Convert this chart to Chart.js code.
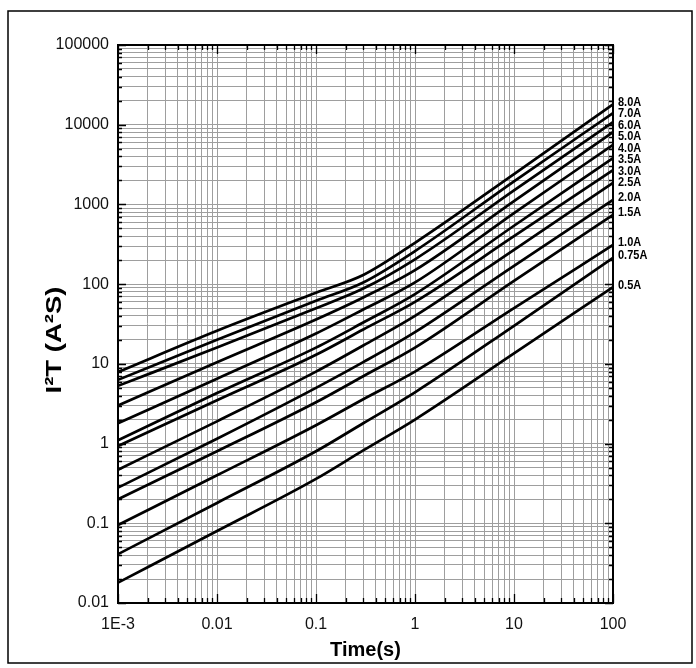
<!DOCTYPE html>
<html>
<head>
<meta charset="utf-8">
<script src="https://cdn.jsdelivr.net/npm/chart.js@4.4.1/dist/chart.umd.min.js"></script>
<style>
  html, body { margin: 0; padding: 0; background: #fff; }
  #wrap { width: 696px; height: 668px; position: relative; }
</style>
</head>
<body>
<div id="wrap"><canvas id="c" width="696" height="668"></canvas></div>
<script>
// ---- data ----
const times = [0.001, 0.01, 0.1, 0.3, 1, 10, 100];
const seriesNames = ['8.0A','7.0A','6.0A','5.0A','4.0A','3.5A','3.0A','2.5A','2.0A','1.5A','1.0A','0.75A','0.5A'];
const s8_0  = [7.9, 26, 78, 130, 330, 2400, 18000];
const s7_0  = [6.3, 20, 62, 105, 260, 1950, 14000];
const s6_0  = [5.3, 16, 50, 88, 205, 1500, 10800];
const s5_0  = [3.0, 10.5, 36, 68, 150, 1100, 8100];
const s4_0  = [1.8, 6.5, 24, 48, 105, 780, 5600];
const s3_5  = [1.1, 4.3, 16, 33, 75, 540, 3800];
const s3_0  = [0.93, 3.5, 13, 27, 60, 400, 2700];
const s2_5  = [0.47, 1.9, 8, 17, 40, 270, 1860];
const s2_0  = [0.28, 1.15, 5, 10.5, 25, 170, 1140];
const s1_5  = [0.2, 0.8, 3.3, 7.0, 16, 110, 740];
const s1_0  = [0.095, 0.4, 1.7, 3.6, 8, 50, 310];
const s0_75 = [0.041, 0.18, 0.8, 1.8, 4.4, 30, 213];
const s0_5  = [0.018, 0.08, 0.36, 0.82, 2.0, 13.5, 92];
const seriesValues = [s8_0, s7_0, s6_0, s5_0, s4_0, s3_5, s3_0, s2_5, s2_0, s1_5, s1_0, s0_75, s0_5];
const xTickLabels = ['1E-3', '0.01', '0.1', '1', '10', '100'];
const yTickLabels = ['0.01', '0.1', '1', '10', '100', '1000', '10000', '100000'];
const xTitle = 'Time(s)';
const yTitle = 'I\u00B2T (A\u00B2S)';

// ---- helpers ----
const FONT = "'Liberation Sans', Arial, Helvetica, sans-serif";
function logGridTicks(min, max) {
  const out = [];
  const e0 = Math.round(Math.log10(min)), e1 = Math.round(Math.log10(max));
  for (let e = e0; e <= e1; e++) {
    for (let m = 1; m <= 9; m++) {
      const v = parseFloat((m * Math.pow(10, e)).toPrecision(6));
      if (v >= min * 0.9999 && v <= max * 1.0001) out.push({ value: v, major: m === 1 });
    }
  }
  return out;
}
function labelFor(labels) {
  return function (value) {
    for (const l of labels) {
      if (Math.abs(Math.log10(value) - Math.log10(Number(l))) < 1e-6) return l;
    }
    return '';
  };
}
const xMin = Number(xTickLabels[0]), xMax = Number(xTickLabels[xTickLabels.length - 1]);
const yMin = Number(yTickLabels[0]), yMax = Number(yTickLabels[yTickLabels.length - 1]);

const datasets = seriesNames.map((name, i) => ({
  label: name,
  data: times.map((t, j) => ({ x: t, y: seriesValues[i][j] })),
  borderColor: '#000',
  borderWidth: 2.7,
  pointRadius: 0,
  fill: false,
  cubicInterpolationMode: 'monotone'
}));

const decor = {
  id: 'decor',
  afterDatasetsDraw(chart) {
    const { ctx, chartArea: a, scales: { x, y } } = chart;
    ctx.save();
    // curve end labels, placed at each curve's end, nudged apart so they do not overlap
    ctx.fillStyle = '#000';
    ctx.textAlign = 'left';
    ctx.textBaseline = 'middle';
    const pos = chart.data.datasets.map((ds, i) => {
      const meta = chart.getDatasetMeta(i);
      return meta.data[meta.data.length - 1].y - 2;
    });
    for (let i = 1; i < pos.length; i++) pos[i] = Math.max(pos[i], pos[i - 1] + 11.5);
    chart.data.datasets.forEach((ds, i) => {
      ctx.save();
      ctx.translate(a.right + 5, pos[i]);
      ctx.scale(1, 1.15);
      ctx.font = 'bold 11px ' + FONT;
      ctx.fillText(ds.label, 0, 0);
      ctx.restore();
    });
    // inward tick marks
    ctx.strokeStyle = '#000';
    ctx.lineWidth = 1.3;
    ctx.beginPath();
    x.ticks.forEach(t => {
      const px = Math.round(x.getPixelForValue(t.value)) + 0.5;
      const L = t.major ? 9 : 5;
      ctx.moveTo(px, a.bottom); ctx.lineTo(px, a.bottom - L);
      ctx.moveTo(px, a.top); ctx.lineTo(px, a.top + L);
    });
    y.ticks.forEach(t => {
      const py = Math.round(y.getPixelForValue(t.value)) + 0.5;
      const L = t.major ? 8 : 4;
      ctx.moveTo(a.left, py); ctx.lineTo(a.left + L, py);
      ctx.moveTo(a.right, py); ctx.lineTo(a.right - L, py);
    });
    ctx.stroke();
    // plot frame
    ctx.lineWidth = 2;
    ctx.strokeRect(a.left, a.top, a.right - a.left, a.bottom - a.top);
    // y axis title (rotated; glyphs drawn slightly elongated like the reference)
    ctx.save();
    ctx.translate(55, (a.top + a.bottom) / 2 + 16);
    ctx.rotate(-Math.PI / 2);
    ctx.scale(1.25, 1);
    ctx.font = 'bold 22px ' + FONT;
    ctx.textAlign = 'center';
    ctx.textBaseline = 'middle';
    ctx.fillText(yTitle, 0, 0);
    ctx.restore();
    // outer figure frame
    ctx.lineWidth = 1.5;
    ctx.strokeRect(8, 11, 684, 652);
    ctx.restore();
  }
};

new Chart(document.getElementById('c'), {
  type: 'line',
  data: { datasets },
  plugins: [decor],
  options: {
    responsive: false,
    animation: false,
    events: [],
    layout: { padding: { left: 0, right: 83, top: 45, bottom: 5 } },
    plugins: { legend: { display: false }, tooltip: { enabled: false } },
    scales: {
      x: {
        type: 'logarithmic',
        min: xMin, max: xMax,
        afterBuildTicks: s => { s.ticks = logGridTicks(xMin, xMax); },
        afterFit: s => { s.height = 60; },
        grid: { color: '#9e9e9e', lineWidth: 1, drawTicks: false },
        border: { display: true, color: '#000', width: 2 },
        ticks: {
          autoSkip: false, maxRotation: 0, minRotation: 0, padding: 12,
          color: '#111', font: { family: FONT, size: 16 },
          callback: labelFor(xTickLabels)
        },
        title: {
          display: true, text: xTitle, color: '#000',
          font: { family: FONT, size: 20, weight: 'bold' },
          padding: { top: 0, bottom: 1 }
        }
      },
      y: {
        type: 'logarithmic',
        min: yMin, max: yMax,
        afterBuildTicks: s => { s.ticks = logGridTicks(yMin, yMax); },
        afterFit: s => { s.width = 118; },
        grid: { color: '#9e9e9e', lineWidth: 1, drawTicks: false },
        border: { display: true, color: '#000', width: 2 },
        ticks: {
          autoSkip: false, padding: 9,
          color: '#111', font: { family: FONT, size: 16 },
          callback: labelFor(yTickLabels)
        },
        title: { display: false, text: yTitle }
      }
    }
  }
});
</script>
</body>
</html>
